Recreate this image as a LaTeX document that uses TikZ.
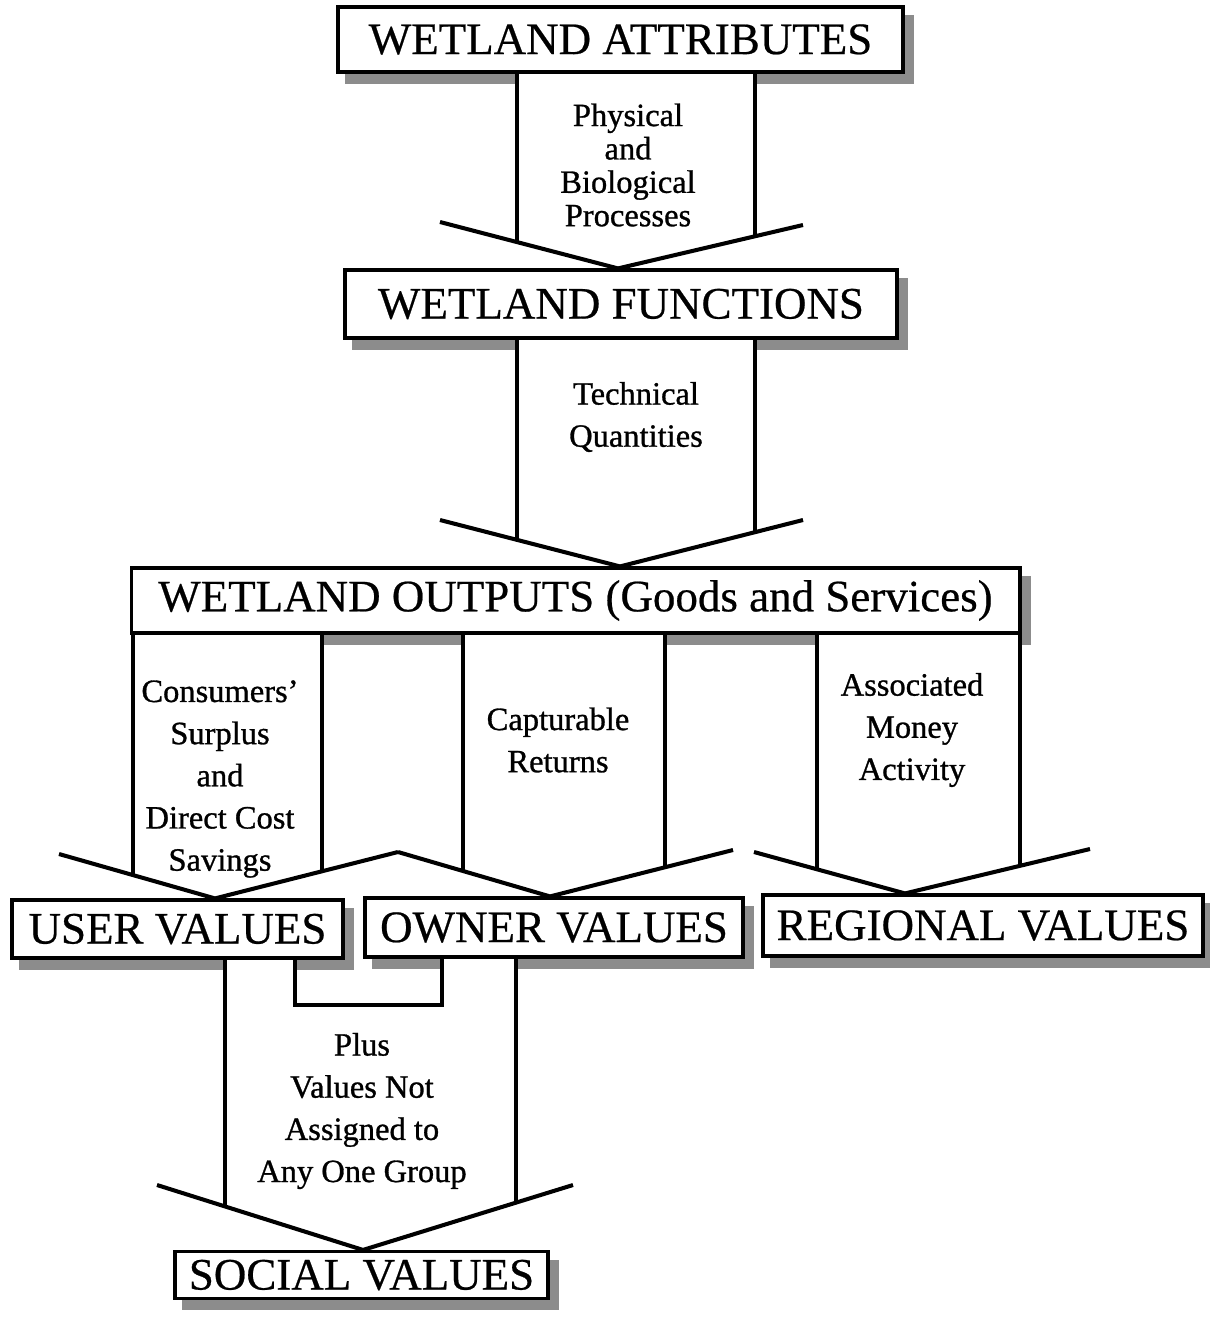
\documentclass[tikz,border=0pt]{standalone}
\usepackage{fontspec}
\setmainfont{Liberation Serif}
\newfontface\heavytitle{Liberation Serif}[Ligatures=TeX, FakeBold=0.5]
\newfontface\heavylabel{Liberation Serif}[Ligatures=TeX, FakeBold=0.9]

\pgfdeclarelayer{shade}
\pgfdeclarelayer{body}
\pgfsetlayers{shade,body,main}

\tikzset{
  box/.style={draw, fill=white, line width=1.8pt, inner sep=0pt, font=\heavytitle\fontsize{25.6}{30}\selectfont},
  lbl/.style={align=center, inner sep=0pt, font=\heavylabel\fontsize{18.5}{24}\selectfont},
  lbltight/.style={lbl, font=\heavylabel\fontsize{18.5}{19}\selectfont},
  shadow/.style={fill=black!45},
  stem/.style={line width=1.9pt},
  vee/.style={line width=2.3pt, line join=miter},
}

\begin{document}
\begin{tikzpicture}[x=0.02cm, y=-0.02cm]
\useasboundingbox (0,0) rectangle (1210,1319);

% boxes
\node [box, minimum width=11.3cm, minimum height=1.3cm] (attr) at (620.5,39.5) {WETLAND ATTRIBUTES};
\node [box, minimum width=11.04cm, minimum height=1.36cm] (func) at (621,304) {WETLAND FUNCTIONS};
\node [box, minimum width=17.78cm, minimum height=1.3cm] (outp) at (575.5,600.5) {WETLAND OUTPUTS (Goods and Services)};
\node [box, minimum width=6.62cm, minimum height=1.16cm] (user) at (177.5,929) {USER VALUES};
\node [box, minimum width=7.56cm, minimum height=1.18cm] (owner) at (554,927.5) {OWNER VALUES};
\node [box, minimum width=8.8cm, minimum height=1.22cm] (regl) at (983,925.5) {REGIONAL VALUES};
\node [box, minimum width=7.46cm, minimum height=0.94cm] (social) at (361.5,1275) {SOCIAL VALUES};

% texts in the arrows
\node [lbltight] (proc) at (628,165) {Physical\\and\\Biological\\Processes};
\node [lbl] (tech) at (636,417) {Technical\\Quantities};
\node [lbl] (cons) at (220,779) {Consumers’\\Surplus\\and\\Direct Cost\\Savings};
\node [lbl] (capt) at (558,740) {Capturable\\Returns};
\node [lbl] (assoc) at (912,730) {Associated\\Money\\Activity};
\node [lbl] (plus) at (362,1111) {Plus\\Values Not\\Assigned to\\Any One Group};

% shadows
\begin{pgfonlayer}{shade}
\foreach \b in {attr,func,outp,user,owner,regl,social}
  \fill [shadow] ([shift={(9,10)}]\b.south west) rectangle ([shift={(9,10)}]\b.north east);
\end{pgfonlayer}

% block arrows
\begin{pgfonlayer}{body}
% attributes -> functions
\coordinate (a1l) at (517,242);
\coordinate (a1r) at (755,236);
\coordinate (a1tip) at (618,0 |- func.north);
\fill [white] (a1l |- attr.south) -- (a1l) -- (a1tip) -- (a1r) -- (a1r |- attr.south) -- cycle;
\draw [stem] (a1l |- attr.south) -- (a1l) (a1r |- attr.south) -- (a1r);
\draw [vee] (440,222) -- (a1tip) -- (803,225);

% functions -> outputs
\coordinate (a2l) at (517,540);
\coordinate (a2r) at (755,534);
\coordinate (a2tip) at (620,0 |- outp.north);
\fill [white] (a2l |- func.south) -- (a2l) -- (a2tip) -- (a2r) -- (a2r |- func.south) -- cycle;
\draw [stem] (a2l |- func.south) -- (a2l) (a2r |- func.south) -- (a2r);
\draw [vee] (440,520) -- (a2tip) -- (803,520);

% outputs -> user values
\coordinate (b1l) at (133,874);
\coordinate (b1r) at (322,871);
\coordinate (b1tip) at (215,0 |- user.north);
\fill [white] (b1l |- outp.south) -- (b1l) -- (b1tip) -- (b1r) -- (b1r |- outp.south) -- cycle;
\draw [stem] (b1l |- outp.south) -- (b1l) (b1r |- outp.south) -- (b1r);
\draw [vee] (59,854) -- (b1tip) -- (398,852);

% outputs -> owner values
\coordinate (b2l) at (463,870);
\coordinate (b2r) at (665,867);
\coordinate (b2tip) at (550,0 |- owner.north);
\fill [white] (b2l |- outp.south) -- (b2l) -- (b2tip) -- (b2r) -- (b2r |- outp.south) -- cycle;
\draw [stem] (b2l |- outp.south) -- (b2l) (b2r |- outp.south) -- (b2r);
\draw [vee] (398,852) -- (b2tip) -- (733,850);

% outputs -> regional values
\coordinate (b3l) at (817,869);
\coordinate (b3r) at (1020,866);
\coordinate (b3tip) at (905,0 |- regl.north);
\fill [white] (b3l |- outp.south) -- (b3l) -- (b3tip) -- (b3r) -- (b3r |- outp.south) -- cycle;
\draw [stem] (b3l |- outp.south) -- (b3l) (b3r |- outp.south) -- (b3r);
\draw [vee] (754,852) -- (b3tip) -- (1090,849);

% user + owner -> social values
\coordinate (c1l) at (225,1207);
\coordinate (c1r) at (516,1203);
\coordinate (c1tip) at (363,0 |- social.north);
\coordinate (n1) at (295,1005);
\coordinate (n2) at (442,1005);
\fill [white] (c1l |- user.south) -- (c1l) -- (c1tip) -- (c1r) -- (c1r |- owner.south)
  -- (n2 |- owner.south) -- (n2) -- (n1) -- (n1 |- user.south) -- cycle;
\draw [stem] (c1l |- user.south) -- (c1l) (c1r |- owner.south) -- (c1r);
\draw [stem, line join=miter] (n1 |- user.south) -- (n1) -- (n2) -- (n2 |- owner.south);
\draw [vee] (157,1185) -- (c1tip) -- (573,1185);
\end{pgfonlayer}

\end{tikzpicture}
\end{document}
